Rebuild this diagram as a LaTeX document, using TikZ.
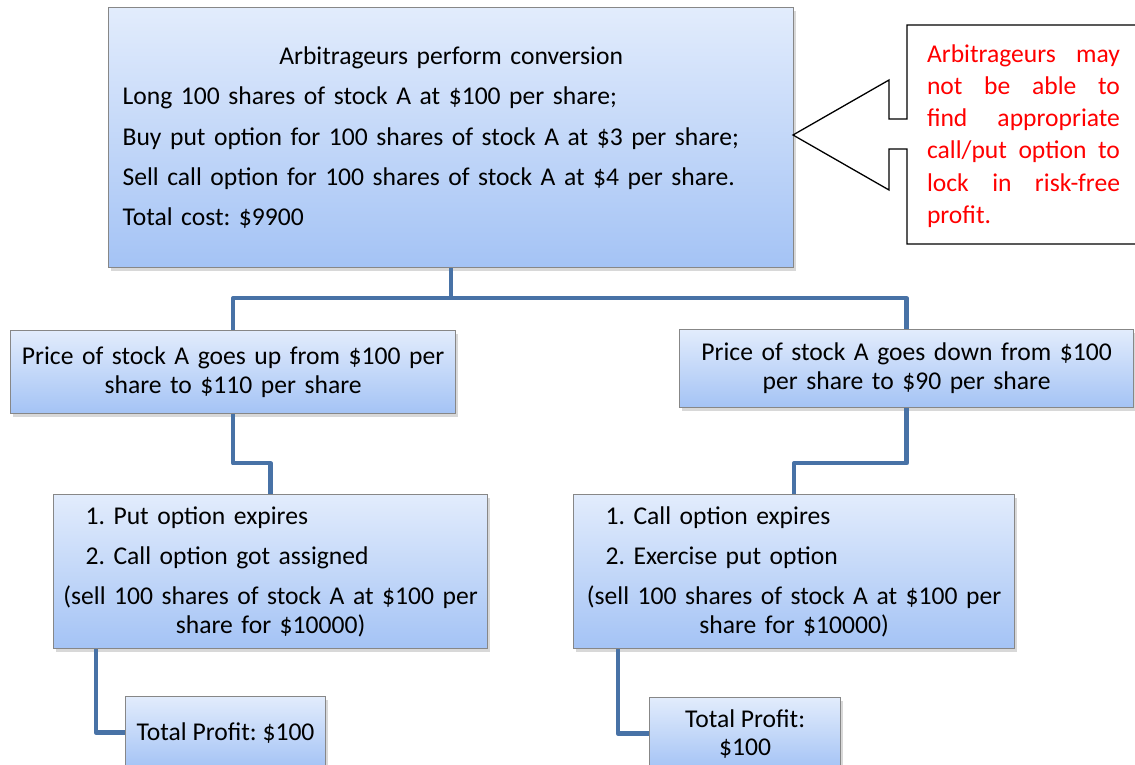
\documentclass[tikz,border=0pt]{standalone}
\usepackage{fontspec}
\setmainfont{Carlito}
\usetikzlibrary{shadows}
\definecolor{boxtop}{RGB}{226,236,252}
\definecolor{boxbot}{RGB}{164,195,245}
\definecolor{boxborder}{RGB}{135,135,135}
\definecolor{connblue}{RGB}{72,114,166}
\tikzset{
  box/.style={draw=boxborder, line width=1.2pt, top color=boxtop, bottom color=boxbot,
    drop shadow={shadow xshift=2.5pt, shadow yshift=-3pt, opacity=0.3},
    anchor=north west, inner ysep=0pt},
  conn/.style={draw=connblue, line width=4.5pt, line join=round},
  callout/.style={draw=black, line width=1.3pt, fill=white},
  big/.style={font=\fontsize{25.6}{#1}\selectfont\frenchspacing},
}
\begin{document}
\begin{tikzpicture}[x=1pt,y=-1pt]
\path[use as bounding box] (0,0) rectangle (1135,765);
\clip (0,0) rectangle (1135,765);
\fill[white] (0,0) rectangle (1135,765);

% top box
\node[box, big=40.4, minimum width=685pt, minimum height=260pt, inner xsep=14pt,
  text width=657pt, align=left] (top) at (108,7)
  {\makebox[657pt][c]{Arbitrageurs perform conversion}\\
   Long 100 shares of stock A at \$100 per share;\\
   Buy put option for 100 shares of stock A at \$3 per share;\\
   Sell call option for 100 shares of stock A at \$4 per share.\\
   Total cost: \$9900};

% middle boxes
\node[box, big=29, minimum width=445pt, minimum height=83pt, inner xsep=5pt,
  text width=435pt, align=center] (midL) at (10,330)
  {Price of stock A goes up from \$100 per\\share to \$110 per share};
\node[box, big=29, minimum width=454pt, minimum height=78pt, inner xsep=5pt,
  text width=444pt, align=center] (midR) at (679,329)
  {Price of stock A goes down from \$100\\per share to \$90 per share};

% lower boxes
\node[box, big=29, minimum width=434pt, minimum height=154pt, inner xsep=7pt,
  text width=420pt, align=left] (botL) at (53,494)
  {\hspace*{25pt}1. Put option expires\\[11pt]
   \hspace*{25pt}2. Call option got assigned\\[11pt]
   \makebox[420pt][c]{(sell 100 shares of stock A at \$100 per}\\
   \makebox[420pt][c]{share for \$10000)}};
\node[box, big=29, minimum width=441pt, minimum height=154pt, inner xsep=7pt,
  text width=427pt, align=left] (botR) at (573,494)
  {\hspace*{25pt}1. Call option expires\\[11pt]
   \hspace*{25pt}2. Exercise put option\\[11pt]
   \makebox[427pt][c]{(sell 100 shares of stock A at \$100 per}\\
   \makebox[427pt][c]{share for \$10000)}};

% profit boxes
\node[box, big=29, minimum width=200pt, minimum height=72pt, inner xsep=5pt,
  align=center] (profL) at (125,696) {Total Profit: \$100};
\node[box, big=28, minimum width=191pt, minimum height=72pt, inner xsep=5pt,
  align=center] (profR) at (649,697) {Total Profit:\\\$100};

% connectors
\draw[conn] (top.south) -- ++(0,30) -| (midL.north);
\draw[conn] (top.south) -- ++(0,30) -| (midR.north);
\draw[conn] (midL.south) -- ++(0,49) -| (botL.north);
\draw[conn] (midR.south) -- ++(0,55) -| (botR.north);
\draw[conn] ([xshift=43pt]botL.south west) |- (profL.west);
\draw[conn] ([xshift=45pt]botR.south west) |- (profR.west);

% callout
\coordinate (tip) at (793,135);
\draw[callout] (907,25) -- (1145,25) -- (1145,244) -- (907,244) -- (907,149)
  -- (889,149) -- (889,190) -- (tip) -- (889,80) -- (889,119) -- (907,119) -- cycle;
\node[big=32.3, text=red, inner sep=0pt, text width=193pt, align=left] (note) at (1023.5,136)
  {\makebox[193pt][l]{Arbitrageurs\hfill may}\\
   \makebox[193pt][l]{not\hfill be\hfill able\hfill to}\\
   \makebox[193pt][l]{find\hfill appropriate}\\
   \makebox[193pt][l]{call/put\hfill option\hfill to}\\
   \makebox[193pt][l]{lock\hfill in\hfill risk-free}\\
   profit.};
\end{tikzpicture}
\end{document}
